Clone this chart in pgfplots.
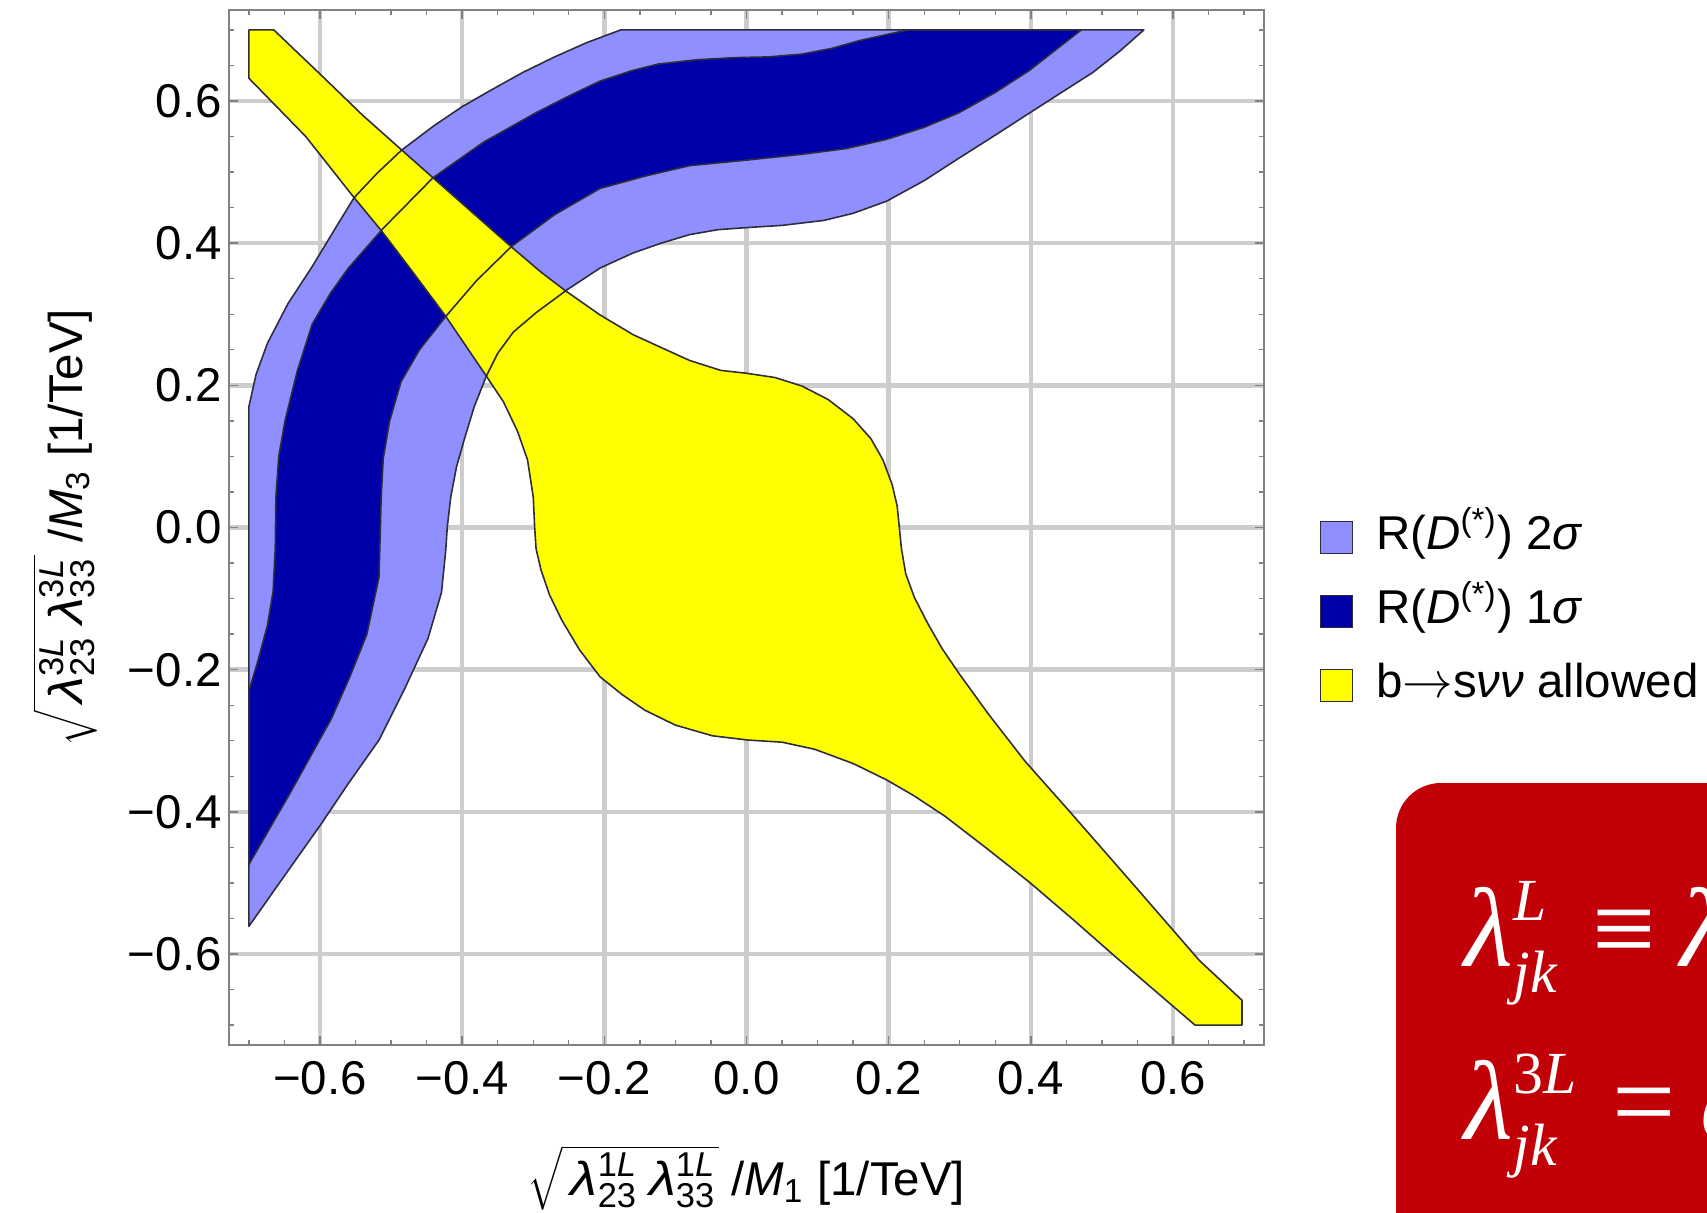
\documentclass[border=0pt]{standalone}
\usepackage{fontspec}
\setmainfont{Liberation Sans}
\newfontfamily\timesfont{Liberation Serif}
\usepackage{graphicx}
\usepackage{pgfplots}
\pgfplotsset{compat=1.18}

\definecolor{sigtwo}{RGB}{143,143,255}
\definecolor{sigone}{RGB}{0,0,170}
\definecolor{allowed}{RGB}{255,255,0}
\definecolor{slidered}{RGB}{193,0,7}
\definecolor{edgecol}{RGB}{45,45,60}
\definecolor{framecol}{RGB}{130,130,130}
\definecolor{gridcol}{RGB}{205,205,205}

% lambda with stacked super- and subscript
\newcommand\lam[2]{\scalebox{1.15}[1]{\textit{λ}}\rlap{\raisebox{0.4em}{\fontsize{9.8}{10}\selectfont #1}}\raisebox{-0.26em}{\fontsize{9.8}{10}\selectfont #2}}

\begin{document}
\begin{tikzpicture}
\useasboundingbox (-2.29,-1.67) rectangle (14.78,10.45);
\begin{axis}[
  at={(0,0)}, anchor=south west,
  width=10.35cm, height=10.35cm, scale only axis,
  xmin=-0.728, xmax=0.728, ymin=-0.728, ymax=0.728,
  xtick={-0.6,-0.4,-0.2,0,0.2,0.4,0.6},
  ytick={-0.6,-0.4,-0.2,0,0.2,0.4,0.6},
  xticklabels={−0.6,−0.4,−0.2,0.0,0.2,0.4,0.6},
  yticklabels={−0.6,−0.4,−0.2,0.0,0.2,0.4,0.6},
  minor xtick={-0.7,-0.65,-0.55,-0.5,-0.45,-0.35,-0.3,-0.25,-0.15,-0.1,-0.05,0.05,0.1,0.15,0.25,0.3,0.35,0.45,0.5,0.55,0.65,0.7},
  minor ytick={-0.7,-0.65,-0.55,-0.5,-0.45,-0.35,-0.3,-0.25,-0.15,-0.1,-0.05,0.05,0.1,0.15,0.25,0.3,0.35,0.45,0.5,0.55,0.65,0.7},
  tick pos=both, tick align=inside,
  major tick length=0.09cm, minor tick length=0.05cm,
  every tick/.style={framecol, line width=0.4pt},
  axis line style={framecol, line width=0.5pt},
  xmajorgrids, ymajorgrids,
  major grid style={gridcol, line width=1.3pt},
  tick label style={font=\fontsize{13.5}{16}\selectfont},
  xticklabel style={yshift=-0.04cm},
  yticklabel style={xshift=0.05cm},
  label style={font=\fontsize{13.5}{16}\selectfont},
  xlabel={$\sqrt{\mbox{\,\lam{1\textit{L}}{23}\hspace{0.13cm}\lam{1\textit{L}}{33}\hspace{0.05cm}}}$\hspace{0.12cm}/\textit{M}\textsubscript{1} [1/TeV]},
  ylabel={$\sqrt{\mbox{\,\lam{3\textit{L}}{23}\hspace{0.13cm}\lam{3\textit{L}}{33}\hspace{0.05cm}}}$\hspace{0.12cm}/\textit{M}\textsubscript{3} [1/TeV]},
  xlabel style={at={(axis description cs:0.5,-0.145)}, anchor=base},
  ylabel style={at={(axis description cs:-0.142,0.5)}, anchor=base},
  legend style={at={(axis description cs:1.043,0.417)}, anchor=west,
    draw=none, fill=none, font=\fontsize{13.5}{16}\selectfont,
    row sep=0pt,
    nodes={inner ysep=0.05cm, text height=0.42cm, text depth=0.22cm},
    /tikz/every odd column/.append style={column sep=0.16cm}},
  legend cell align=left,
  legend image code/.code={\draw[#1, draw=edgecol, line width=0.4pt] (0cm,-0.14cm) rectangle (0.32cm,0.18cm);},
]

% 2 sigma band of R(D(*))
\addplot[fill=sigtwo, draw=none] coordinates {
(-0.700,-0.561) (-0.700,0.170) (-0.690,0.215) (-0.674,0.259) (-0.645,0.315)
(-0.611,0.367) (-0.582,0.415) (-0.552,0.464) (-0.520,0.498) (-0.485,0.531)
(-0.440,0.565) (-0.400,0.592) (-0.360,0.615) (-0.315,0.640) (-0.270,0.662)
(-0.225,0.682) (-0.177,0.700) (0.559,0.700) (0.525,0.670) (0.487,0.640)
(0.440,0.610) (0.398,0.583) (0.350,0.552) (0.298,0.519) (0.250,0.488)
(0.197,0.459) (0.150,0.442) (0.109,0.432) (0.050,0.425) (0.002,0.422)
(-0.040,0.419) (-0.080,0.412) (-0.120,0.400) (-0.160,0.386) (-0.206,0.365)
(-0.253,0.334) (-0.295,0.303) (-0.328,0.275) (-0.350,0.245) (-0.366,0.213)
(-0.383,0.170) (-0.397,0.124) (-0.408,0.085) (-0.416,0.043) (-0.421,0.000)
(-0.423,-0.031) (-0.429,-0.091) (-0.448,-0.156) (-0.480,-0.225) (-0.517,-0.299)
(-0.560,-0.360) (-0.599,-0.418) (-0.650,-0.490) (-0.700,-0.561)
} -- cycle;
\addlegendentry{R(\textit{D}\textsuperscript{(*)}) 2\textit{σ}}

% 1 sigma band of R(D(*))
\addplot[fill=sigone, draw=none] coordinates {
(-0.700,-0.474) (-0.700,-0.230) (-0.688,-0.190) (-0.674,-0.138) (-0.666,-0.090)
(-0.663,-0.031) (-0.662,0.043) (-0.658,0.100) (-0.649,0.151) (-0.632,0.220)
(-0.611,0.286) (-0.585,0.330) (-0.560,0.365) (-0.511,0.421) (-0.441,0.492)
(-0.370,0.542) (-0.297,0.583) (-0.250,0.607) (-0.206,0.628) (-0.160,0.643)
(-0.124,0.652) (-0.070,0.658) (-0.017,0.661) (0.030,0.662) (0.078,0.666)
(0.120,0.674) (0.159,0.685) (0.195,0.693) (0.228,0.700) (0.471,0.700)
(0.435,0.672) (0.398,0.643) (0.350,0.612) (0.298,0.583) (0.250,0.563)
(0.197,0.546) (0.140,0.533) (0.078,0.525) (0.002,0.517) (-0.080,0.509)
(-0.140,0.495) (-0.206,0.477) (-0.270,0.440) (-0.331,0.395) (-0.380,0.347)
(-0.423,0.297) (-0.460,0.250) (-0.486,0.205) (-0.502,0.150) (-0.511,0.097)
(-0.514,0.040) (-0.515,0.000) (-0.517,-0.070) (-0.534,-0.150) (-0.558,-0.210)
(-0.584,-0.269) (-0.640,-0.370) (-0.700,-0.474)
} -- cycle;
\addlegendentry{R(\textit{D}\textsuperscript{(*)}) 1\textit{σ}}

% region allowed by b -> s nu nu
\addplot[fill=allowed, draw=none] coordinates {
(-0.700,0.700) (-0.665,0.700) (-0.600,0.638) (-0.540,0.580) (-0.485,0.531)
(-0.441,0.492) (-0.390,0.447) (-0.331,0.395) (-0.290,0.360) (-0.256,0.334)
(-0.206,0.299) (-0.159,0.271) (-0.124,0.255) (-0.080,0.235) (-0.036,0.221)
(0.000,0.217) (0.040,0.211) (0.078,0.199) (0.115,0.180) (0.150,0.153)
(0.175,0.125) (0.192,0.095) (0.205,0.060) (0.212,0.030) (0.215,0.000)
(0.218,-0.030) (0.224,-0.065) (0.236,-0.098) (0.255,-0.135) (0.275,-0.170)
(0.298,-0.204) (0.340,-0.262) (0.392,-0.329) (0.455,-0.400) (0.545,-0.503)
(0.637,-0.609) (0.697,-0.665) (0.697,-0.700) (0.631,-0.700) (0.575,-0.652)
(0.518,-0.603) (0.460,-0.552) (0.398,-0.499) (0.340,-0.453) (0.279,-0.406)
(0.235,-0.377) (0.197,-0.355) (0.150,-0.332) (0.096,-0.312) (0.050,-0.302)
(0.002,-0.299) (-0.048,-0.293) (-0.100,-0.278) (-0.143,-0.257) (-0.175,-0.235)
(-0.206,-0.210) (-0.235,-0.172) (-0.260,-0.130) (-0.277,-0.095) (-0.289,-0.060)
(-0.296,-0.030) (-0.298,0.000) (-0.300,0.043) (-0.308,0.095) (-0.322,0.135)
(-0.342,0.177) (-0.366,0.213) (-0.423,0.297) (-0.470,0.360) (-0.514,0.418)
(-0.552,0.464) (-0.620,0.550) (-0.700,0.632)
} -- cycle;
\addlegendentry{b\ensuremath{\rightarrow}s\textit{νν} allowed}

% region boundaries on top of all fills
\addplot[forget plot, draw=edgecol, line width=0.45pt, line join=round] coordinates {
(-0.700,-0.561) (-0.700,0.170) (-0.690,0.215) (-0.674,0.259) (-0.645,0.315)
(-0.611,0.367) (-0.582,0.415) (-0.552,0.464) (-0.520,0.498) (-0.485,0.531)
(-0.440,0.565) (-0.400,0.592) (-0.360,0.615) (-0.315,0.640) (-0.270,0.662)
(-0.225,0.682) (-0.177,0.700) (0.559,0.700) (0.525,0.670) (0.487,0.640)
(0.440,0.610) (0.398,0.583) (0.350,0.552) (0.298,0.519) (0.250,0.488)
(0.197,0.459) (0.150,0.442) (0.109,0.432) (0.050,0.425) (0.002,0.422)
(-0.040,0.419) (-0.080,0.412) (-0.120,0.400) (-0.160,0.386) (-0.206,0.365)
(-0.253,0.334) (-0.295,0.303) (-0.328,0.275) (-0.350,0.245) (-0.366,0.213)
(-0.383,0.170) (-0.397,0.124) (-0.408,0.085) (-0.416,0.043) (-0.421,0.000)
(-0.423,-0.031) (-0.429,-0.091) (-0.448,-0.156) (-0.480,-0.225) (-0.517,-0.299)
(-0.560,-0.360) (-0.599,-0.418) (-0.650,-0.490) (-0.700,-0.561)
} -- cycle;
\addplot[forget plot, draw=edgecol, line width=0.45pt, line join=round] coordinates {
(-0.700,-0.474) (-0.700,-0.230) (-0.688,-0.190) (-0.674,-0.138) (-0.666,-0.090)
(-0.663,-0.031) (-0.662,0.043) (-0.658,0.100) (-0.649,0.151) (-0.632,0.220)
(-0.611,0.286) (-0.585,0.330) (-0.560,0.365) (-0.511,0.421) (-0.441,0.492)
(-0.370,0.542) (-0.297,0.583) (-0.250,0.607) (-0.206,0.628) (-0.160,0.643)
(-0.124,0.652) (-0.070,0.658) (-0.017,0.661) (0.030,0.662) (0.078,0.666)
(0.120,0.674) (0.159,0.685) (0.195,0.693) (0.228,0.700) (0.471,0.700)
(0.435,0.672) (0.398,0.643) (0.350,0.612) (0.298,0.583) (0.250,0.563)
(0.197,0.546) (0.140,0.533) (0.078,0.525) (0.002,0.517) (-0.080,0.509)
(-0.140,0.495) (-0.206,0.477) (-0.270,0.440) (-0.331,0.395) (-0.380,0.347)
(-0.423,0.297) (-0.460,0.250) (-0.486,0.205) (-0.502,0.150) (-0.511,0.097)
(-0.514,0.040) (-0.515,0.000) (-0.517,-0.070) (-0.534,-0.150) (-0.558,-0.210)
(-0.584,-0.269) (-0.640,-0.370) (-0.700,-0.474)
} -- cycle;
\addplot[forget plot, draw=edgecol, line width=0.45pt, line join=round] coordinates {
(-0.700,0.700) (-0.665,0.700) (-0.600,0.638) (-0.540,0.580) (-0.485,0.531)
(-0.441,0.492) (-0.390,0.447) (-0.331,0.395) (-0.290,0.360) (-0.256,0.334)
(-0.206,0.299) (-0.159,0.271) (-0.124,0.255) (-0.080,0.235) (-0.036,0.221)
(0.000,0.217) (0.040,0.211) (0.078,0.199) (0.115,0.180) (0.150,0.153)
(0.175,0.125) (0.192,0.095) (0.205,0.060) (0.212,0.030) (0.215,0.000)
(0.218,-0.030) (0.224,-0.065) (0.236,-0.098) (0.255,-0.135) (0.275,-0.170)
(0.298,-0.204) (0.340,-0.262) (0.392,-0.329) (0.455,-0.400) (0.545,-0.503)
(0.637,-0.609) (0.697,-0.665) (0.697,-0.700) (0.631,-0.700) (0.575,-0.652)
(0.518,-0.603) (0.460,-0.552) (0.398,-0.499) (0.340,-0.453) (0.279,-0.406)
(0.235,-0.377) (0.197,-0.355) (0.150,-0.332) (0.096,-0.312) (0.050,-0.302)
(0.002,-0.299) (-0.048,-0.293) (-0.100,-0.278) (-0.143,-0.257) (-0.175,-0.235)
(-0.206,-0.210) (-0.235,-0.172) (-0.260,-0.130) (-0.277,-0.095) (-0.289,-0.060)
(-0.296,-0.030) (-0.298,0.000) (-0.300,0.043) (-0.308,0.095) (-0.322,0.135)
(-0.342,0.177) (-0.366,0.213) (-0.423,0.297) (-0.470,0.360) (-0.514,0.418)
(-0.552,0.464) (-0.620,0.550) (-0.700,0.632)
} -- cycle;
\end{axis}

% definition box in the lower right corner
\begin{scope}
  \clip (-2.29,-1.67) rectangle (14.78,10.45);
  \fill[slidered, rounded corners=0.45cm] (11.67,-4) rectangle (17,2.62);
  \node[anchor=base west, inner sep=0pt, text=white] at (12.35,0.79)
    {\timesfont\fontsize{32}{38}\selectfont\itshape λ\rlap{\raisebox{13pt}{\fontsize{17}{17}\selectfont L}}\raisebox{-7.5pt}{\fontsize{17}{17}\selectfont jk}\upshape\hspace{0.36cm}≡\hspace{0.25cm}\itshape λ\raisebox{13pt}{\fontsize{17}{17}\selectfont 1L}};
  \node[anchor=base west, inner sep=0pt, text=white] at (12.35,-0.94)
    {\timesfont\fontsize{32}{38}\selectfont\itshape λ\rlap{\raisebox{-7.5pt}{\fontsize{17}{17}\selectfont jk}}\raisebox{13pt}{\fontsize{17}{17}\selectfont\upshape 3\itshape L}\upshape\hspace{0.36cm}=\hspace{0.25cm}\itshape c};
\end{scope}
\end{tikzpicture}
\end{document}
